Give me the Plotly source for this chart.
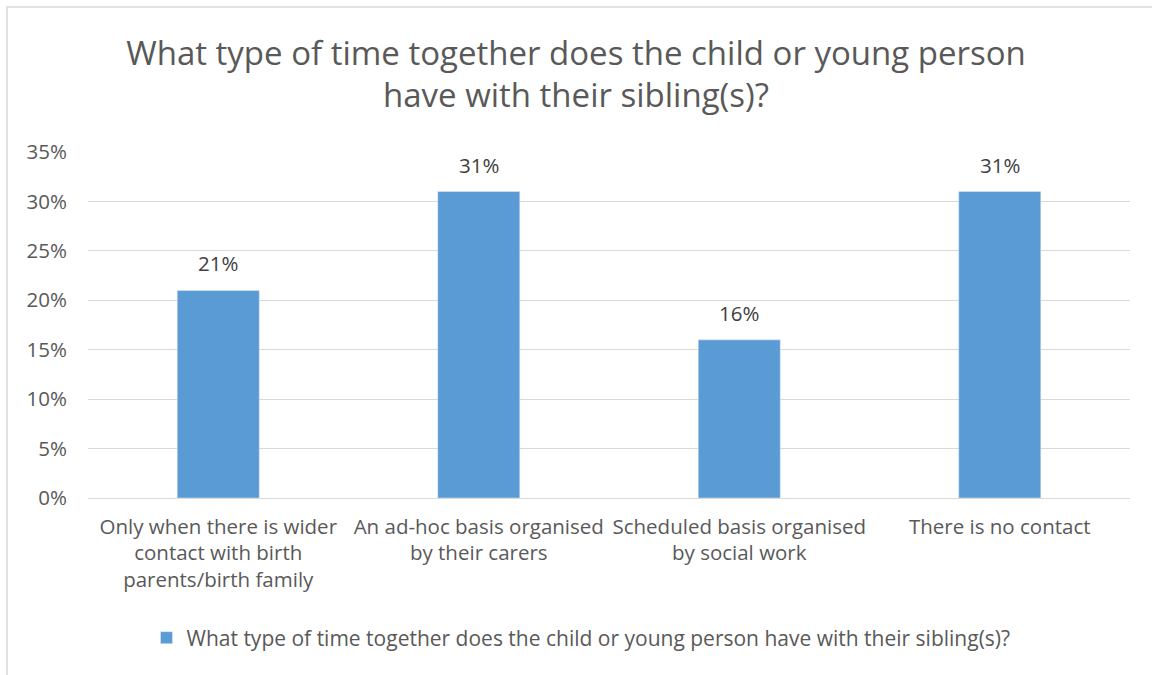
import plotly.graph_objects as go

categories = [
    "Only when there is wider<br>contact with birth<br>parents/birth family",
    "An ad-hoc basis organised<br>by their carers",
    "Scheduled basis organised<br>by social work",
    "There is no contact",
]
values = [0.21, 0.31, 0.16, 0.31]
labels = ["21%", "31%", "16%", "31%"]
series_name = "What type of time together does the child or young person have with their sibling(s)?"
title_text = "What type of time together does the child or young person<br>have with their sibling(s)?"

FONT = "Open Sans, sans-serif"
GREY = "#595959"
FS = 20.5

fig = go.Figure()
fig.add_trace(go.Bar(
    x=categories, y=values, name=series_name,
    marker=dict(color="#5b9bd5"),
    showlegend=True,
))

for c, v, t in zip(categories, values, labels):
    fig.add_annotation(x=c, y=v, text=t, showarrow=False, yanchor="bottom", yshift=11,
                       font=dict(size=FS, color="#404040", family=FONT))

L, R, T, B = 88, 22, 152, 177
W, H = 1152, 675
pw, ph = W - L - R, H - T - B

fig.update_layout(
    width=W, height=H,
    margin=dict(l=L, r=R, t=T, b=B),
    paper_bgcolor="white", plot_bgcolor="white",
    font=dict(family=FONT, color=GREY, size=FS),
    title=dict(text=title_text, x=0.5, xanchor="center", y=1 - 64.5 / H, yanchor="middle",
               font=dict(size=33, color=GREY, family=FONT)),
    bargap=0.685,
    xaxis=dict(showgrid=False, showline=True, linecolor="#d9d9d9", linewidth=1,
               tickfont=dict(size=FS, color=GREY), ticks="", ticklabelstandoff=10),
    yaxis=dict(range=[0, 0.35], dtick=0.05, tickformat=".0%", showgrid=True,
               gridcolor="#d9d9d9", gridwidth=1, zeroline=False, showline=False,
               tickfont=dict(size=FS, color=GREY), ticklabelstandoff=20),
    legend=dict(orientation="h", x=0.5 - 28 / pw, xanchor="center", y=-(638 - (T + ph)) / ph,
                yanchor="middle", font=dict(size=21, color=GREY)),
    shapes=[dict(type="rect", xref="paper", yref="paper",
                 x0=(7 - L) / pw, x1=(W + 20 - L) / pw,
                 y0=-(H + 20 - (T + ph)) / ph, y1=1 + (T - 7) / ph,
                 line=dict(color="#d9d9d9", width=1.5), fillcolor="rgba(0,0,0,0)", layer="below")],
)

fig.write_html("out.html")
